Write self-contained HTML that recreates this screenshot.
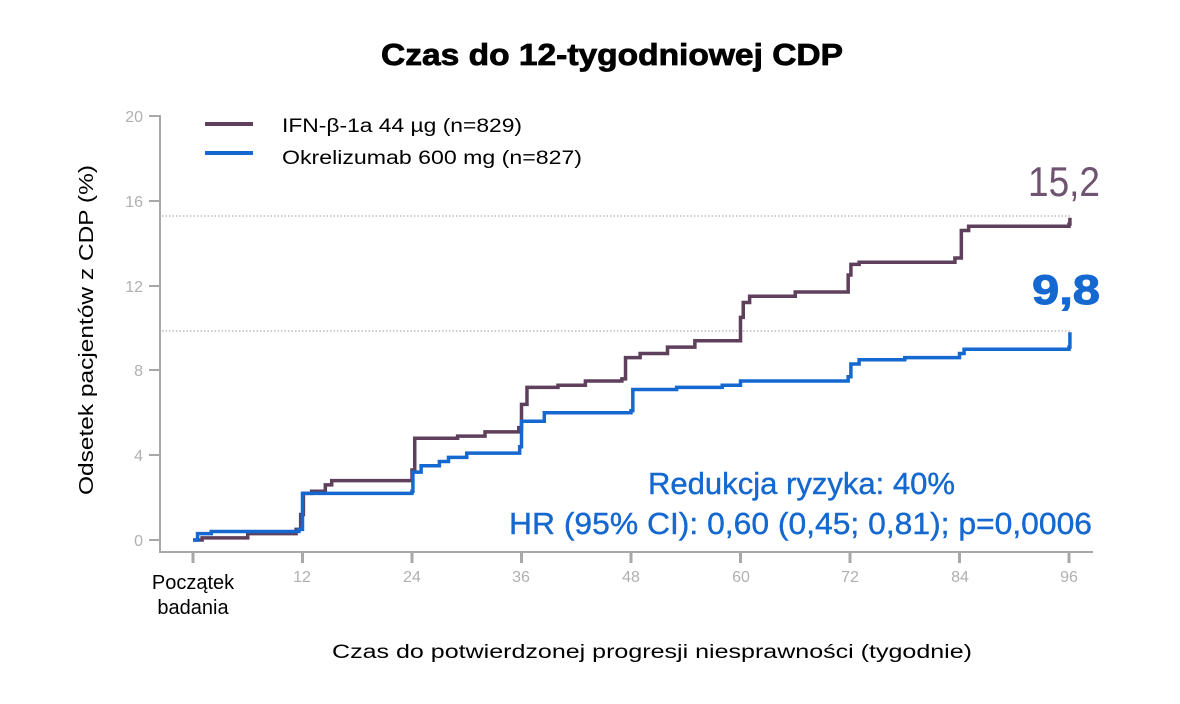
<!DOCTYPE html>
<html><head><meta charset="utf-8"><style>
html,body{margin:0;padding:0;background:#fff;}
svg{display:block;}
text{font-family:"Liberation Sans",sans-serif;}
</style></head><body>
<svg id="s" width="1180" height="704" viewBox="0 0 1180 704" xmlns="http://www.w3.org/2000/svg">
<text x="612" y="65" text-anchor="middle" font-size="31" font-weight="bold" textLength="462" lengthAdjust="spacingAndGlyphs" fill="#000" stroke="#000" stroke-width="0.8">Czas do 12-tygodniowej CDP</text>
<g stroke="#a8a8a8" stroke-width="2" fill="none">
<line x1="160" y1="115" x2="160" y2="553"/>
<line x1="159" y1="552" x2="1093" y2="552"/>
<line x1="149" y1="116" x2="160" y2="116"/>
<line x1="149" y1="201" x2="160" y2="201"/>
<line x1="149" y1="286" x2="160" y2="286"/>
<line x1="149" y1="370" x2="160" y2="370"/>
<line x1="149" y1="455" x2="160" y2="455"/>
<line x1="149" y1="540" x2="160" y2="540"/>
</g>
<g id="xt" stroke="#a8a8a8" stroke-width="3"></g>
<g font-size="16" fill="#b0b0b0" text-anchor="end">
<text x="143" y="122">20</text><text x="143" y="207">16</text><text x="143" y="292">12</text>
<text x="143" y="376">8</text><text x="143" y="461">4</text><text x="143" y="546">0</text>
</g>
<g font-size="16" fill="#b0b0b0" text-anchor="middle">
<text x="302" y="582">12</text><text x="412" y="582">24</text><text x="521" y="582">36</text>
<text x="631" y="582">48</text><text x="741" y="582">60</text><text x="850" y="582">72</text>
<text x="960" y="582">84</text><text x="1069" y="582">96</text>
</g>
<text x="193" y="589" text-anchor="middle" font-size="20" fill="#000">Początek</text>
<text x="193" y="614" text-anchor="middle" font-size="20" fill="#000">badania</text>
<text x="652" y="658" text-anchor="middle" font-size="19" fill="#000" textLength="640" lengthAdjust="spacingAndGlyphs">Czas do potwierdzonej progresji niesprawności (tygodnie)</text>
<text transform="translate(93,330) rotate(-90)" text-anchor="middle" font-size="20" fill="#000" textLength="330" lengthAdjust="spacingAndGlyphs">Odsetek pacjentów z CDP (%)</text>
<line x1="162" y1="216" x2="1072" y2="216" stroke="#999" stroke-width="1" stroke-dasharray="1.5,2"/>
<line x1="162" y1="331" x2="1072" y2="331" stroke="#999" stroke-width="1" stroke-dasharray="1.5,2"/>
<line x1="205" y1="124" x2="253" y2="124" stroke="#5e3f5c" stroke-width="4"/>
<line x1="205" y1="153" x2="253" y2="153" stroke="#1468d0" stroke-width="4"/>
<text x="282" y="132" font-size="19" fill="#000" textLength="240" lengthAdjust="spacingAndGlyphs">IFN-β-1a 44 µg (n=829)</text>
<text x="282" y="164" font-size="19" fill="#000" textLength="300" lengthAdjust="spacingAndGlyphs">Okrelizumab 600 mg (n=827)</text>
<path id="pp" fill="none" stroke="#5e3f5c" stroke-width="3.5"/>
<path id="bp" fill="none" stroke="#1468d0" stroke-width="3.5"/>
<text x="1100" y="196" text-anchor="end" font-size="42" fill="#6e5470" textLength="72" lengthAdjust="spacingAndGlyphs">15,2</text>
<text x="1100" y="304" text-anchor="end" font-size="42" font-weight="bold" fill="#1468d0" textLength="68" lengthAdjust="spacingAndGlyphs" stroke="#1468d0" stroke-width="1">9,8</text>
<text x="648" y="494" font-size="31" fill="#1468d0" textLength="307" lengthAdjust="spacingAndGlyphs" stroke="#1468d0" stroke-width="0.4">Redukcja ryzyka: 40%</text>
<text x="1092" y="534" text-anchor="end" font-size="31" fill="#1468d0" textLength="583" lengthAdjust="spacingAndGlyphs" stroke="#1468d0" stroke-width="0.4">HR (95% CI): 0,60 (0,45; 0,81); p=0,0006</text>
</svg>
<script>
var X=function(w){return 193+9.125*w},Y=function(v){return 540-21.2*v};
var xt=document.getElementById('xt');
[0,12,24,36,48,60,72,84,96].forEach(function(w){var l=document.createElementNS('http://www.w3.org/2000/svg','line');l.setAttribute('x1',X(w));l.setAttribute('x2',X(w));l.setAttribute('y1',552);l.setAttribute('y2',563);xt.appendChild(l);});
function path(d){var s='M'+X(d[0][0])+','+Y(d[0][1]);for(var i=1;i<d.length;i++){s+=' H'+X(d[i][0])+' V'+Y(d[i][1]);}return s;}
var P=[[0,0],[1,0.1],[6,0.3],[11.3,0.5],[11.8,1.2],[12.1,2.2],[13,2.3],[14.5,2.6],[15.2,2.8],[24,3.3],[24.3,4.8],[29,4.9],[32,5.1],[35.7,5.3],[36,6.4],[36.6,7.2],[40,7.3],[43,7.5],[47,7.6],[47.4,8.6],[49,8.8],[52,9.1],[55,9.4],[60,10.5],[60.3,11.2],[61,11.5],[65,11.5],[66,11.7],[71.8,12.5],[72.1,13.0],[73,13.1],[83.5,13.3],[84.2,14.6],[85,14.8],[96,14.9],[96.1,15.2]];
var B=[[0,0],[0.5,0.3],[2,0.4],[11.6,0.5],[12,2.2],[24,2.3],[24.1,3.2],[25,3.5],[27,3.7],[28,3.9],[30,4.1],[35.8,4.4],[36,5.6],[38.5,6.0],[48,6.1],[48.2,7.1],[53,7.2],[58,7.3],[60,7.5],[71.8,7.7],[72.1,8.3],[73,8.5],[78,8.6],[84,8.8],[84.5,9.0],[96,9.1],[96.1,9.8]];
document.getElementById('pp').setAttribute('d',path(P));
document.getElementById('bp').setAttribute('d',path(B));
</script>
</body></html>
